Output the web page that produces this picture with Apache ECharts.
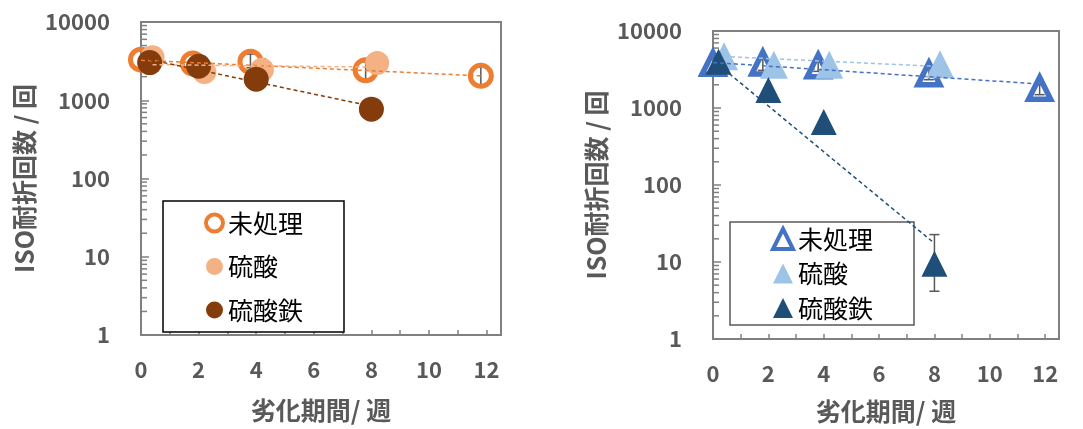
<!DOCTYPE html>
<html><head><meta charset="utf-8">
<script src="https://cdn.jsdelivr.net/npm/echarts@6/dist/echarts.min.js"></script>
<style>html,body{margin:0;padding:0;background:#fff}#c{width:1083px;height:429px}</style>
</head><body><div id="c"></div>
<script>
// ---------- data ----------
const seriesNames = ['未処理', '硫酸', '硫酸鉄'];
const xTickLabels = [0, 2, 4, 6, 8, 10, 12];
const yTickLabels = [1, 10, 100, 1000, 10000];
const minorMultipliers = [2, 3, 4, 5, 6, 7, 8, 9];

// left chart (circles)
const L_untreated_x = [0, 1.8, 3.8, 7.8, 11.8];
const L_untreated_y = [3300, 2950, 3100, 2420, 2050];
const L_acid_x = [0.4, 2.2, 4.2, 8.2];
const L_acid_y = [3550, 2300, 2450, 3000];
const L_iron_x = [0.3, 2, 4, 8];
const L_iron_y = [3030, 2720, 1860, 770];
const L_trend_untreated = [[0, 3250], [11.8, 2050]];
const L_trend_acid = [[0.4, 2850], [8.2, 2650]];
const L_trend_iron = [[0.3, 3300], [8, 840]];
const L_err_x = [3.8, 7.8, 11.8, 4.2];
const L_err_lo = [2600, 1850, 1500, 1900];
const L_err_hi = [3900, 3100, 2650, 3400];

// right chart (triangles)
const R_untreated_x = [0, 1.8, 3.8, 7.8, 11.8];
const R_untreated_y = [3800, 3850, 3530, 2780, 1800];
const R_acid_x = [0.4, 2.2, 4.2, 8.2];
const R_acid_y = [4700, 3650, 3650, 3700];
const R_iron_x = [0.2, 2, 4, 8];
const R_iron_y = [4000, 1710, 660, 9.5];
const R_trend_untreated = [[0, 3900], [11.8, 2050]];
const R_trend_acid = [[0.4, 4660], [8.2, 3460]];
const R_trend_iron = [[0.2, 3640], [8, 17.5]];
const R_err_x = [1.8, 3.8, 7.8, 11.8, 8];
const R_err_lo = [3080, 2990, 2330, 1490, 4.17];
const R_err_hi = [4440, 4020, 3300, 2000, 22.7];

// ---------- helpers ----------
const zip = (xs, ys) => xs.map((x, i) => [x, ys[i]]);
const errData = (xs, lo, hi) => xs.map((x, i) => [x, lo[i], hi[i]]);
const minorVals = [];
yTickLabels.slice(0, -1).forEach(d => minorMultipliers.forEach(m => minorVals.push([0, d * m])));

const FONT = '"Noto Sans CJK JP", "Noto Sans", sans-serif';
const AX = '#808080', TXT = '#595959';

function xAxisDef(gi) {
  return {
    type: 'value', gridIndex: gi, min: 0, max: 12.5, interval: 1,
    name: '劣化期間/ 週', nameLocation: 'middle', nameGap: gi === 0 ? 63 : 60,
    nameTextStyle: { fontFamily: FONT, fontSize: 25, fontWeight: 'bold', color: TXT },
    axisLine: { lineStyle: { color: AX, width: 2 } },
    axisTick: { inside: true, length: 5, lineStyle: { color: AX, width: 1.5 } },
    axisLabel: {
      margin: 24, fontFamily: FONT, fontSize: 22, fontWeight: 'bold', color: TXT,
      formatter: v => (xTickLabels.indexOf(v) >= 0 ? String(v) : '')
    },
    splitLine: { show: false }
  };
}
function yAxisDef(gi) {
  return {
    type: 'log', logBase: 10, gridIndex: gi, min: 1, max: 10000,
    name: 'ISO耐折回数 / 回', nameLocation: 'middle', nameGap: 104, nameRotate: 90,
    nameTextStyle: { fontFamily: FONT, fontSize: 25, fontWeight: 'bold', color: TXT },
    axisLine: { show: true, lineStyle: { color: AX, width: 2 } },
    axisTick: { inside: true, length: 8, lineStyle: { color: AX, width: 1.5 } },
    axisLabel: { margin: 31, fontFamily: FONT, fontSize: 22, fontWeight: 'bold', color: TXT,
      formatter: v => String(v) },
    splitLine: { show: false }
  };
}
function minorTickSeries(gi) {
  return {
    type: 'custom', xAxisIndex: gi, yAxisIndex: gi, silent: true, z: 1,
    data: minorVals, encode: { x: 0, y: 1 },
    renderItem: (p, api) => {
      const pt = api.coord([api.value(0), api.value(1)]);
      return { type: 'line', shape: { x1: pt[0], y1: pt[1], x2: pt[0] + 6, y2: pt[1] },
        style: { stroke: AX, lineWidth: 1.5 } };
    }
  };
}
function errSeries(gi, data, cap) {
  return {
    type: 'custom', xAxisIndex: gi, yAxisIndex: gi, silent: true, z: 2,
    data: data, encode: { x: 0, y: [1, 2] },
    renderItem: (p, api) => {
      const a = api.coord([api.value(0), api.value(1)]);
      const b = api.coord([api.value(0), api.value(2)]);
      const st = { stroke: '#595959', lineWidth: 1.5 };
      return { type: 'group', children: [
        { type: 'line', shape: { x1: a[0], y1: a[1], x2: b[0], y2: b[1] }, style: st },
        { type: 'line', shape: { x1: a[0] - cap, y1: a[1], x2: a[0] + cap, y2: a[1] }, style: st },
        { type: 'line', shape: { x1: b[0] - cap, y1: b[1], x2: b[0] + cap, y2: b[1] }, style: st }
      ] };
    }
  };
}
function trend(gi, data, color) {
  return { type: 'line', xAxisIndex: gi, yAxisIndex: gi, data: data, symbol: 'none', silent: true, z: 5,
    lineStyle: { color: color, width: 1.5, type: [4, 3], opacity: 1 } };
}
function scatter(gi, name, data, symbol, size, style, z) {
  return { type: 'scatter', name: name, xAxisIndex: gi, yAxisIndex: gi, data: data,
    symbol: symbol, symbolSize: size, itemStyle: Object.assign({ opacity: 1 }, style), z: z,
    emphasis: { disabled: true } };
}

const C = { org: '#ED7D31', lorg: '#F4B183', brn: '#843C0C', blu: '#4472C4', lblu: '#9DC3E6', dblu: '#1F4E79' };
const Lname = n => 'L|' + n, Rname = n => 'R|' + n;

const option = {
  animation: false,
  grid: [
    { left: 141, top: 22, width: 360, height: 313, show: true, borderColor: AX, borderWidth: 2, backgroundColor: 'transparent' },
    { left: 713, top: 31, width: 346, height: 310, show: true, borderColor: AX, borderWidth: 2, backgroundColor: 'transparent' }
  ],
  xAxis: [xAxisDef(0), xAxisDef(1)],
  yAxis: [yAxisDef(0), yAxisDef(1)],
  legend: [
    {
      left: 163, top: 201, orient: 'vertical', selectedMode: false,
      padding: [9.5, 41, 9.5, 41], itemWidth: 17, itemHeight: 17, itemGap: 18.5, itemTextGap: 5,
      backgroundColor: '#fff', borderColor: '#000', borderWidth: 1.5,
      textStyle: { fontFamily: FONT, fontSize: 25, color: '#000' },
      formatter: n => n.split('|')[1],
      data: [
        { name: Lname(seriesNames[0]), icon: 'circle', itemStyle: { color: '#fff', borderColor: C.org, borderWidth: 4, opacity: 1 } },
        { name: Lname(seriesNames[1]), icon: 'circle', itemStyle: { color: C.lorg, borderWidth: 0, opacity: 1 } },
        { name: Lname(seriesNames[2]), icon: 'circle', itemStyle: { color: C.brn, borderWidth: 0, opacity: 1 } }
      ]
    },
    {
      left: 730, top: 222, orient: 'vertical', selectedMode: false,
      padding: [4.5, 41, 4.5, 41], itemWidth: 20, itemHeight: 20, itemGap: 9.5, itemTextGap: 3,
      backgroundColor: '#fff', borderColor: '#595959', borderWidth: 1.5,
      textStyle: { fontFamily: FONT, fontSize: 25, color: '#000' },
      formatter: n => n.split('|')[1],
      data: [
        { name: Rname(seriesNames[0]), icon: 'triangle', itemStyle: { color: '#fff', borderColor: C.blu, borderWidth: 4, opacity: 1 } },
        { name: Rname(seriesNames[1]), icon: 'triangle', itemStyle: { color: C.lblu, borderWidth: 0, opacity: 1 } },
        { name: Rname(seriesNames[2]), icon: 'triangle', itemStyle: { color: C.dblu, borderWidth: 0, opacity: 1 } }
      ]
    }
  ],
  series: [
    minorTickSeries(0), minorTickSeries(1),
    errSeries(0, errData(L_err_x, L_err_lo, L_err_hi), 4),
    errSeries(1, errData(R_err_x, R_err_lo, R_err_hi), 5),
    scatter(0, Lname(seriesNames[0]), zip(L_untreated_x, L_untreated_y), 'circle', 21,
      { color: 'rgba(255,255,255,0)', borderColor: C.org, borderWidth: 5 }, 3),
    scatter(0, Lname(seriesNames[1]), zip(L_acid_x, L_acid_y), 'circle', 24, { color: C.lorg }, 3),
    scatter(0, Lname(seriesNames[2]), zip(L_iron_x, L_iron_y), 'circle', 25, { color: C.brn }, 3),
    scatter(1, Rname(seriesNames[0]), zip(R_untreated_x, R_untreated_y), 'triangle', 22,
      { color: 'rgba(255,255,255,0)', borderColor: C.blu, borderWidth: 5.5 }, 3),
    scatter(1, Rname(seriesNames[1]), zip(R_acid_x, R_acid_y), 'triangle', 28, { color: C.lblu }, 3),
    scatter(1, Rname(seriesNames[2]), zip(R_iron_x, R_iron_y), 'triangle', 26, { color: C.dblu }, 3),
    trend(0, L_trend_untreated, C.org), trend(0, L_trend_acid, C.lorg), trend(0, L_trend_iron, C.brn),
    trend(1, R_trend_untreated, C.blu), trend(1, R_trend_acid, C.lblu), trend(1, R_trend_iron, C.dblu)
  ]
};
const chart = echarts.init(document.getElementById('c'), null, { renderer: 'canvas' });
chart.setOption(option);
</script></body></html>
